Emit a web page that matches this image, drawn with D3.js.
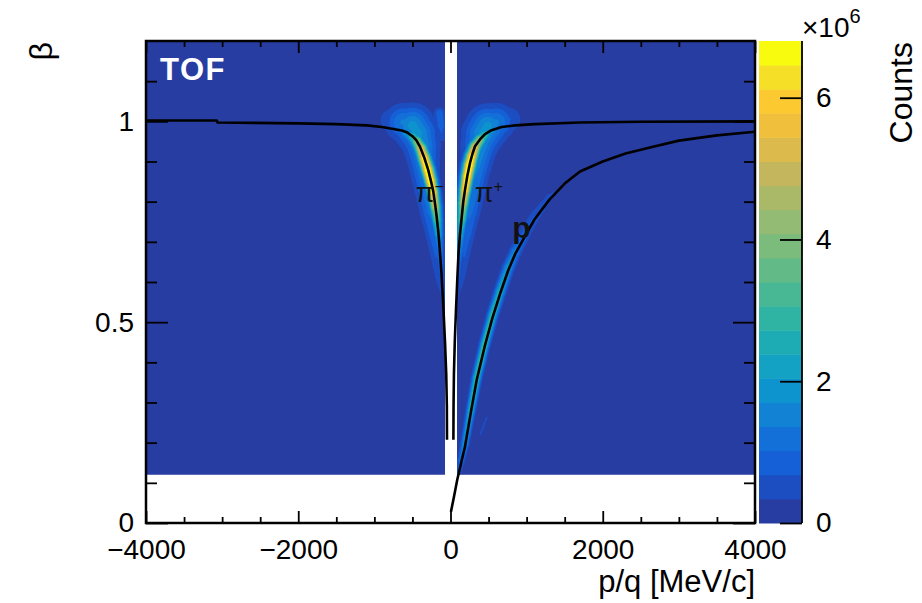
<!DOCTYPE html>
<html>
<head>
<meta charset="utf-8">
<script src="https://cdn.jsdelivr.net/npm/d3@7"></script>
<style>
body { margin: 0; background: #fff; }
svg { display: block; }
text { font-family: "Liberation Sans", Arial, sans-serif; }
</style>
</head>
<body>
<svg id="chart" width="922" height="603"></svg>
<script>
// ---- data ----
var xMajor = [-4000, -2000, 0, 2000, 4000];
var xMinor = [-3500, -3000, -2500, -1500, -1000, -500, 500, 1000, 1500, 2500, 3000, 3500];
var yMajor = [0, 0.5, 1];
var yMinor = [0.1, 0.2, 0.3, 0.4, 0.6, 0.7, 0.8, 0.9, 1.1];
var zTicks = [0, 2, 4, 6];
var zMax = 6.8;        // x10^6 counts, top of palette
var nLevels = 20;

// filled (non-empty) part of the histogram
var filledBeta = [0.12, 1.2];
var emptyGap = [-72, 85];   // p/q band with no entries

// expected beta curves [p/q, beta]
var piMinusLine = [[-4000,1.002],[-3070,1.002],[-3060,0.997],[-2000,0.995],[-1500,0.993],[-1100,0.99],[-900,0.986],[-750,0.981],[-640,0.977],[-576,0.973],[-500,0.963],[-450,0.953],[-401,0.937],[-345,0.91],[-293,0.879],[-255,0.85],[-226,0.825],[-200,0.79],[-182,0.763],[-163,0.73],[-147,0.696],[-118,0.62],[-92,0.53],[-72,0.45],[-56,0.37],[-48,0.29],[-46,0.207]];
var piPlusLine = [[38,0.207],[40,0.29],[45,0.37],[56,0.45],[72,0.53],[90,0.61],[105,0.67],[125,0.72],[147,0.76],[168,0.8],[191,0.83],[222,0.865],[257,0.897],[290,0.92],[322,0.938],[387,0.955],[453,0.968],[540,0.978],[672,0.986],[850,0.99],[1110,0.993],[1700,0.997],[2500,0.999],[4000,1.0]];
var protonLine = [[6,0.028],[45,0.065],[88,0.107],[140,0.15],[190,0.19],[265,0.273],[344,0.356],[450,0.44],[550,0.51],[650,0.57],[760,0.63],[850,0.67],[952,0.705],[1100,0.755],[1300,0.805],[1500,0.845],[1701,0.875],[2000,0.9],[2300,0.92],[2620,0.935],[3000,0.952],[3500,0.965],[4000,0.974]];

// populated ridges [p/q, beta, counts (x10^6), spread (MeV/c)]
var piMinusHalo = [[-760,1.002,0.7,130],[-620,0.998,1.4,150],[-500,0.99,1.8,165],[-430,0.97,1.8,160],[-380,0.94,1.7,140],[-345,0.89,1.5,120],[-310,0.835,1.3,105],[-268,0.775,1.1,90],[-225,0.72,0.9,75],[-190,0.665,0.7,60],[-160,0.615,0.5,50],[-135,0.565,0.3,40]];
var piMinusEar = [[-145,1.02,0.9,55],[-125,0.99,0.9,55],[-110,0.96,0.6,45]];
var piMinusCore = [[-720,0.981,0.9,55],[-590,0.972,1.8,55],[-500,0.962,3.0,55],[-440,0.95,4.4,55],[-390,0.933,5.8,55],[-345,0.908,7.0,55],[-300,0.88,7.6,55],[-262,0.852,7.6,52],[-230,0.823,6.8,50],[-200,0.787,5.4,48],[-178,0.755,3.8,45],[-160,0.72,2.5,42],[-145,0.69,1.5,40],[-120,0.625,0.8,36],[-95,0.54,0.4,30],[-75,0.46,0.25,25]];
var piPlusHalo = [[760,1.005,0.7,130],[600,0.998,1.4,150],[490,0.988,1.8,165],[430,0.97,1.8,160],[380,0.94,1.7,140],[335,0.89,1.5,120],[295,0.835,1.3,105],[255,0.775,1.1,90],[215,0.72,0.9,75],[180,0.665,0.7,60],[150,0.615,0.5,50],[125,0.565,0.3,40]];
var piPlusCore = [[660,0.985,0.9,55],[540,0.977,1.8,55],[453,0.967,3.0,55],[387,0.954,4.4,55],[322,0.936,5.8,55],[280,0.913,7.0,55],[250,0.891,7.6,55],[220,0.863,7.6,52],[192,0.829,6.8,50],[168,0.796,5.4,48],[147,0.756,3.8,45],[125,0.716,2.5,42],[105,0.666,1.5,40],[88,0.606,0.8,36],[72,0.53,0.4,30],[58,0.46,0.25,25]];
var protonCore = [[88,0.113,0.6,30],[140,0.156,1.3,32],[190,0.198,2.0,34],[265,0.279,2.7,36],[344,0.361,3.1,38],[450,0.446,3.2,40],[550,0.516,3.0,42],[650,0.576,2.6,45],[760,0.636,2.0,48],[850,0.675,1.5,50],[952,0.711,1.0,52],[1100,0.761,0.7,55],[1300,0.811,0.45,55],[1450,0.835,0.3,55]];
var protonStreak = [[395,0.222,0.55,14],[475,0.262,0.55,14]];

// palette, one colour per contour level (bottom to top)
var levelColors = ["#283da2","#1c4dc1","#1560d6","#1370d8","#1182d4","#0d93cd","#13a1c4","#1eacb4","#2fb4a3","#47b893",
                   "#62ba86","#7bbb7c","#93bb73","#aab968","#c3b65c","#dcbb4c","#f0bf3c","#fcc931","#f6df27","#f9fb0e"];

// ---- layout ----
var plot = {left: 146, right: 755, top: 41, bottom: 523};
var bar = {left: 759, right: 802};

var svg = d3.select("#chart");
var x = d3.scaleLinear().domain([-4000, 4000]).range([plot.left, plot.right]);
var y = d3.scaleLinear().domain([0, 1.2]).range([plot.bottom, plot.top]);
var z = d3.scaleLinear().domain([0, zMax]).range([plot.bottom, plot.top]);

var defs = svg.append("defs");
var dc = defs.append("clipPath").attr("id", "dataClip");
dc.append("rect").attr("x", x(-4000)).attr("width", x(emptyGap[0]) - x(-4000))
  .attr("y", y(filledBeta[1])).attr("height", y(filledBeta[0]) - y(filledBeta[1]));
dc.append("rect").attr("x", x(emptyGap[1])).attr("width", x(4000) - x(emptyGap[1]))
  .attr("y", y(filledBeta[1])).attr("height", y(filledBeta[0]) - y(filledBeta[1]));
defs.append("clipPath").attr("id", "plotClip").append("rect")
  .attr("x", plot.left).attr("y", plot.top)
  .attr("width", plot.right - plot.left).attr("height", plot.bottom - plot.top);

// lowest level fill
var hist = svg.append("g").attr("clip-path", "url(#dataClip)");
hist.append("rect").attr("x", plot.left).attr("y", plot.top)
  .attr("width", plot.right - plot.left).attr("height", plot.bottom - plot.top)
  .attr("fill", levelColors[0]);

// ridge bands above one threshold
function ridgeShapes(ridge, t) {
  var pts = ridge.map(function(d) {
    return {x: x(d[0]), y: y(d[1]), c: d[2], s: x(d[0] + d[3]) - x(d[0])};
  });
  function rad(p) { return p.c > t ? p.s * Math.sqrt(2 * Math.log(p.c / t)) : 0; }
  var out = [];
  for (var i = 0; i < pts.length - 1; i++) {
    var a = pts[i], b = pts[i + 1];
    var ra = rad(a), rb = rad(b);
    if (ra <= 0 && rb <= 0) continue;
    var f;
    if (rb <= 0) { f = (a.c - t) / (a.c - b.c); b = {x: a.x + f * (b.x - a.x), y: a.y + f * (b.y - a.y)}; }
    if (ra <= 0) { f = (b.c - t) / (b.c - a.c); a = {x: b.x + f * (a.x - b.x), y: b.y + f * (a.y - b.y)}; }
    out.push({ax: a.x, ay: a.y, ra: ra, bx: b.x, by: b.y, rb: rb});
  }
  return out;
}

var ridges = [piMinusHalo, piPlusHalo, piMinusEar, protonStreak, piMinusCore, piPlusCore, protonCore];
d3.range(1, nLevels).forEach(function(L) {
  var t = L * zMax / nLevels;
  var g = hist.append("g").attr("fill", levelColors[L]);
  ridges.forEach(function(r) {
    ridgeShapes(r, t).forEach(function(s) {
      var dx = s.bx - s.ax, dy = s.by - s.ay, len = Math.sqrt(dx * dx + dy * dy) || 1;
      var nx = -dy / len, ny = dx / len;
      g.append("path").attr("d",
        "M" + (s.ax + nx * s.ra) + "," + (s.ay + ny * s.ra) +
        "L" + (s.bx + nx * s.rb) + "," + (s.by + ny * s.rb) +
        "L" + (s.bx - nx * s.rb) + "," + (s.by - ny * s.rb) +
        "L" + (s.ax - nx * s.ra) + "," + (s.ay - ny * s.ra) + "Z");
      if (s.ra > 0) g.append("circle").attr("cx", s.ax).attr("cy", s.ay).attr("r", s.ra);
      if (s.rb > 0) g.append("circle").attr("cx", s.bx).attr("cy", s.by).attr("r", s.rb);
    });
  });
});

// expected curves
var line = d3.line().x(function(d) { return x(d[0]); }).y(function(d) { return y(d[1]); });
var curves = svg.append("g").attr("clip-path", "url(#plotClip)");
[piMinusLine, piPlusLine, protonLine].forEach(function(c) {
  curves.append("path").datum(c).attr("d", line)
    .attr("fill", "none").attr("stroke", "#000").attr("stroke-width", 2.6)
    .attr("stroke-linejoin", "round");
});

// labels on the plot
svg.append("text").attr("x", 160).attr("y", 80).attr("fill", "#fff")
  .attr("font-size", 31).attr("font-weight", "bold").attr("letter-spacing", 1.5).text("TOF");
var pm = svg.append("text").attr("x", x(-455)).attr("y", y(0.8))
  .attr("font-family", "Liberation Serif, serif").attr("font-size", 27).attr("fill", "#111").text("π");
pm.append("tspan").attr("dy", -10).attr("font-size", 16).text("−");
var pp = svg.append("text").attr("x", x(320)).attr("y", y(0.8))
  .attr("font-family", "Liberation Serif, serif").attr("font-size", 27).attr("fill", "#111").text("π");
pp.append("tspan").attr("dy", -10).attr("font-size", 16).text("+");
svg.append("text").attr("x", x(810)).attr("y", y(0.71))
  .attr("font-size", 30).attr("font-weight", "bold").attr("fill", "#111").text("p");

// ---- axes ----
function styleAxis(g) {
  g.select(".domain").remove();
  g.selectAll(".tick line").attr("stroke", "#000").attr("stroke-width", 1.8);
  g.selectAll("text").attr("font-family", "Liberation Sans, Arial, sans-serif")
    .attr("font-size", 28).attr("fill", "#000");
}
var fmt = function(d) { return d3.format("")(d); };

svg.append("g").attr("transform", "translate(0," + plot.bottom + ")")
  .call(d3.axisBottom(x).tickValues(xMajor).tickSize(-12).tickPadding(16).tickFormat(fmt)).call(styleAxis);
svg.append("g").attr("transform", "translate(0," + plot.bottom + ")")
  .call(d3.axisBottom(x).tickValues(xMinor).tickSize(-6).tickFormat("")).call(styleAxis);
svg.append("g").attr("transform", "translate(0," + plot.top + ")")
  .call(d3.axisTop(x).tickValues(xMajor).tickSize(-12).tickFormat("")).call(styleAxis);
svg.append("g").attr("transform", "translate(0," + plot.top + ")")
  .call(d3.axisTop(x).tickValues(xMinor).tickSize(-6).tickFormat("")).call(styleAxis);

svg.append("g").attr("transform", "translate(" + plot.left + ",0)")
  .call(d3.axisLeft(y).tickValues(yMajor).tickSize(-22).tickPadding(12).tickFormat(fmt)).call(styleAxis);
svg.append("g").attr("transform", "translate(" + plot.left + ",0)")
  .call(d3.axisLeft(y).tickValues(yMinor).tickSize(-11).tickFormat("")).call(styleAxis);
svg.append("g").attr("transform", "translate(" + plot.right + ",0)")
  .call(d3.axisRight(y).tickValues(yMajor).tickSize(-22).tickFormat("")).call(styleAxis);
svg.append("g").attr("transform", "translate(" + plot.right + ",0)")
  .call(d3.axisRight(y).tickValues(yMinor).tickSize(-11).tickFormat("")).call(styleAxis);

svg.append("rect").attr("x", plot.left).attr("y", plot.top)
  .attr("width", plot.right - plot.left).attr("height", plot.bottom - plot.top)
  .attr("fill", "none").attr("stroke", "#000").attr("stroke-width", 2.5);

svg.append("text").attr("x", plot.right).attr("y", 592).attr("text-anchor", "end")
  .attr("font-size", 31).text("p/q [MeV/c]");
svg.append("text").attr("transform", "translate(52," + (plot.top + 1) + ") rotate(-90)")
  .attr("text-anchor", "end").attr("font-size", 32).text("β");

// ---- colour bar ----
var cb = svg.append("g");
cb.selectAll("rect").data(d3.range(nLevels)).enter().append("rect")
  .attr("x", bar.left).attr("width", bar.right - bar.left)
  .attr("y", function(k) { return z((k + 1) * zMax / nLevels); })
  .attr("height", function(k) { return z(k * zMax / nLevels) - z((k + 1) * zMax / nLevels) + 0.5; })
  .attr("fill", function(k) { return levelColors[k]; });
svg.append("g").attr("transform", "translate(" + bar.right + ",0)")
  .call(d3.axisRight(z).tickValues(zTicks).tickSize(-22).tickPadding(14).tickFormat(fmt)).call(styleAxis);
svg.append("line").attr("x1", bar.right).attr("x2", bar.right)
  .attr("y1", plot.top).attr("y2", plot.bottom).attr("stroke", "#000").attr("stroke-width", 1.8);

var mult = svg.append("text").attr("x", bar.right).attr("y", 37).attr("font-size", 28).text("×10");
mult.append("tspan").attr("dy", -14).attr("font-size", 20).text("6");
svg.append("text").attr("transform", "translate(912," + (plot.top + 1) + ") rotate(-90)")
  .attr("text-anchor", "end").attr("font-size", 32).text("Counts");
</script>
</body>
</html>
